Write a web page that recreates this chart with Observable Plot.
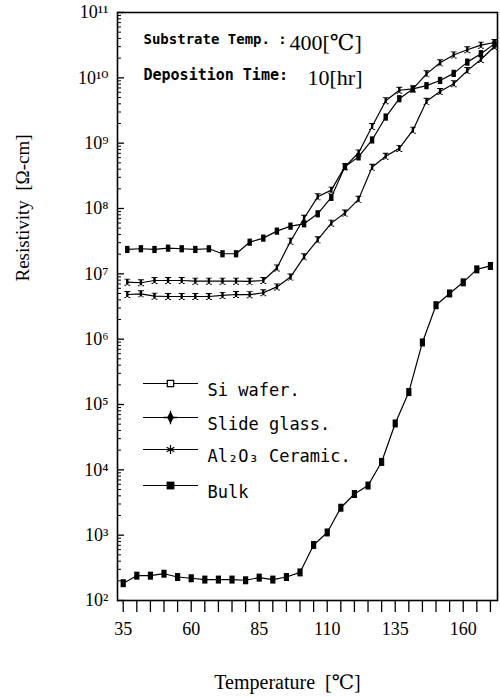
<!DOCTYPE html>
<html>
<head>
<meta charset="utf-8">
<script src="https://cdn.jsdelivr.net/npm/d3@7"></script>
<script src="https://cdn.jsdelivr.net/npm/@observablehq/plot@0.6"></script>
<style>
  html, body { margin: 0; padding: 0; background: #fff; }
  #chart { width: 500px; height: 698px; }
</style>
</head>
<body>
<div id="chart"></div>
<script>
// ---------- data ----------
const bulkTemps = [35, 40, 45, 50, 55, 60, 65, 70, 75, 80, 85, 90, 95, 100, 105, 110, 115, 120, 125, 130, 135, 140, 145, 150, 155, 160, 165, 170];
const filmTemps = [36.5, 41.5, 46.5, 51.5, 56.5, 61.5, 66.5, 71.5, 76.5, 81.5, 86.5, 91.5, 96.5, 101.5, 106.5, 111.5, 116.5, 121.5, 126.5, 131.5, 136.5, 141.5, 146.5, 151.5, 156.5, 161.5, 166.5, 171.5];

const siWafer = [2.36e7, 2.42e7, 2.36e7, 2.47e7, 2.42e7, 2.36e7, 2.42e7, 2.03e7, 2.03e7, 3.05e7, 3.52e7, 4.5e7, 5.37e7, 5.83e7, 8.3e7, 1.48e8, 4.37e8, 6.17e8, 1.12e9, 2.51e9, 4.79e9, 6.76e9, 7.59e9, 9.12e9, 1.17e10, 1.74e10, 2.34e10, 3.31e10];
const slideGlass = [7.45e6, 7.3e6, 7.9e6, 7.9e6, 7.9e6, 7.73e6, 7.73e6, 7.73e6, 7.73e6, 7.67e6, 7.9e6, 1.23e7, 3.16e7, 7.08e7, 1.51e8, 1.91e8, 4.37e8, 7.08e8, 1.8e9, 4.47e9, 6.46e9, 6.76e9, 1.15e10, 1.7e10, 2.24e10, 2.69e10, 3.16e10, 3.47e10];
const al2o3 = [4.83e6, 4.95e6, 4.55e6, 4.5e6, 4.5e6, 4.5e6, 4.5e6, 4.67e6, 4.83e6, 4.79e6, 5.13e6, 6.31e6, 8.91e6, 1.82e7, 3.31e7, 5.97e7, 8.51e7, 1.38e8, 4.27e8, 6.31e8, 8.32e8, 1.58e9, 4.37e9, 6.17e9, 8.13e9, 1.29e10, 1.91e10, 3.02e10];
const bulk = [1.84e2, 2.4e2, 2.4e2, 2.57e2, 2.29e2, 2.19e2, 2.09e2, 2.09e2, 2.09e2, 2.04e2, 2.24e2, 2.09e2, 2.29e2, 2.69e2, 7.08e2, 1.1e3, 2.63e3, 4.27e3, 5.75e3, 1.32e4, 5.13e4, 1.55e5, 8.91e5, 3.31e6, 5.01e6, 7.41e6, 1.17e7, 1.32e7];

const seriesNames = ["Si wafer.", "Slide glass.", "Al\u2082O\u2083 Ceramic.", "Bulk"];

const xTickLabels = [35, 60, 85, 110, 135, 160];
const xTicks = [35, 40, 45, 50, 55, 60, 65, 70, 75, 80, 85, 90, 95, 100, 105, 110, 115, 120, 125, 130, 135, 140, 145, 150, 155, 160, 165, 170];
const yTicks = [1e2, 1e3, 1e4, 1e5, 1e6, 1e7, 1e8, 1e9, 1e10, 1e11];
const yTickLabels = ["10\u00B2", "10\u00B3", "10\u2074", "10\u2075", "10\u2076", "10\u2077", "10\u2078", "10\u2079", "10\u00B9\u2070", "10\u00B9\u00B9"];

const annotation1 = ["Substrate Temp. :", "400[\u2103]"];
const annotation2 = ["Deposition Time:", "10[hr]"];
const xTitle = "Temperature  [\u2103]";
const yTitle = "Resistivity  [\u03A9-cm]";

// ---------- build table ----------
const seriesData = [
  {name: seriesNames[0], temps: filmTemps, values: siWafer},
  {name: seriesNames[1], temps: filmTemps, values: slideGlass},
  {name: seriesNames[2], temps: filmTemps, values: al2o3},
  {name: seriesNames[3], temps: bulkTemps, values: bulk}
];
const rows = seriesData.flatMap(s => s.values.map((v, i) => ({series: s.name, t: s.temps[i], r: v})));

const yMinor = [];
for (let i = 0; i < yTicks.length - 1; i++) for (let m = 2; m <= 9; m++) yMinor.push(yTicks[i] * m);

const SERIF = "'Liberation Serif', 'DejaVu Serif', serif";
const MONO = "'DejaVu Sans Mono', 'Liberation Mono', monospace";

// ---------- symbols ----------
const ibar = {draw(ctx) { ctx.moveTo(-2.2, -3.6); ctx.lineTo(2.2, -3.6); ctx.lineTo(2.2, 3.6); ctx.lineTo(-2.2, 3.6); ctx.closePath(); }};
const ibarBig = {draw(ctx) { ctx.moveTo(-2.6, -4); ctx.lineTo(2.6, -4); ctx.lineTo(2.6, 4); ctx.lineTo(-2.6, 4); ctx.closePath(); }};
const thin = {draw(ctx) { ctx.moveTo(-1.2, -3.5); ctx.lineTo(1.2, -3.5); ctx.lineTo(1.2, 3.5); ctx.lineTo(-1.2, 3.5); ctx.closePath(); ctx.moveTo(-3, -3.5); ctx.lineTo(3, -3.5); ctx.lineTo(3, -2.6); ctx.lineTo(-3, -2.6); ctx.closePath(); ctx.moveTo(-3, 3.5); ctx.lineTo(3, 3.5); ctx.lineTo(3, 2.6); ctx.lineTo(-3, 2.6); ctx.closePath(); }};
const hline = {draw(ctx) { ctx.moveTo(-27.5, 0); ctx.lineTo(27.5, 0); }};
const dataSymbols = [ibar, thin, thin, ibarBig];

const legendRowsDy = [371, 405, 437, 473];

const legendMarks = seriesNames.flatMap((name, i) => {
  const dy = legendRowsDy[i];
  const base = {frameAnchor: "top-left", dx: 53, dy};
  const marks = [Plot.dot([name], {...base, symbol: hline, stroke: "black", strokeWidth: 1.2, fill: "none"})];
  if (i === 0) marks.push(Plot.dot([name], {...base, symbol: "square", r: 3.6, stroke: "black", strokeWidth: 1.2, fill: "white"}));
  if (i === 1) { marks.push(Plot.dot([name], {...base, symbol: "diamond", r: 3.6, fill: "black"})); marks.push(Plot.dot([name], {...base, symbol: "plus", r: 4.5, stroke: "black", strokeWidth: 1.3})); }
  if (i === 2) marks.push(Plot.dot([name], {...base, symbol: "asterisk", r: 4.2, stroke: "black", strokeWidth: 1.3}));
  if (i === 3) marks.push(Plot.dot([name], {...base, symbol: "square", r: 4.4, fill: "black"}));
  marks.push(Plot.text([name], {frameAnchor: "top-left", dx: 90, dy, text: d => d, textAnchor: "start", fontFamily: MONO, fontSize: 17, fill: "black"}));
  return marks;
});

const chart = Plot.plot({
  width: 500,
  height: 698,
  marginLeft: 117,
  marginRight: 3,
  marginTop: 12,
  marginBottom: 98,
  x: {domain: [32.9, 172.6]},
  y: {type: "log", domain: [1e2, 1e11]},
  style: {background: "white", color: "black", fontFamily: SERIF},
  marks: [
    // x ticks (outward) and labels
    Plot.axisX({ticks: xTicks, tickSize: 12, strokeWidth: 1.3, tickFormat: () => "", label: null}),
    Plot.axisX({ticks: xTickLabels, tickSize: 0, tickPadding: 22, fontSize: 18, fontFamily: SERIF, label: null}),
    // y ticks (inward) and labels
    Plot.axisY({ticks: yTicks, tickSize: 7, dx: 7, strokeWidth: 1.3, tickFormat: () => "", label: null}),
    Plot.axisY({ticks: yMinor, tickSize: 4, dx: 4, strokeWidth: 1, tickFormat: () => "", label: null}),
    Plot.axisY({ticks: yTicks, tickSize: 0, tickPadding: 9, fontSize: 18, fontFamily: SERIF, tickFormat: (d, i) => yTickLabels[yTicks.indexOf(d)], label: null}),
    Plot.frame({stroke: "black", strokeWidth: 1.6}),
    // data
    Plot.line(rows, {x: "t", y: "r", z: "series", stroke: "black", strokeWidth: 1.2}),
    ...seriesData.map((s, i) => Plot.dot(rows.filter(d => d.series === s.name), {x: "t", y: "r", symbol: dataSymbols[i], fill: "black", stroke: "none"})),
    // annotations
    Plot.text([annotation1[0]], {frameAnchor: "top-left", dx: 26, dy: 22, text: d => d, textAnchor: "start", fontFamily: MONO, fontSize: 14, fontWeight: "bold"}),
    Plot.text([annotation1[1]], {frameAnchor: "top-left", dx: 172, dy: 22, text: d => d, textAnchor: "start", fontFamily: SERIF, fontSize: 22}),
    Plot.text([annotation2[0]], {frameAnchor: "top-left", dx: 26, dy: 57, text: d => d, textAnchor: "start", fontFamily: MONO, fontSize: 15, fontWeight: "bold"}),
    Plot.text([annotation2[1]], {frameAnchor: "top-left", dx: 190, dy: 57, text: d => d, textAnchor: "start", fontFamily: SERIF, fontSize: 22}),
    // legend
    ...legendMarks,
    // axis titles
    Plot.text([xTitle], {frameAnchor: "bottom", dx: -20, dy: 88, text: d => d, fontFamily: SERIF, fontSize: 20}),
    Plot.text([yTitle], {frameAnchor: "left", dx: -95, dy: -25, rotate: -90, text: d => d, fontFamily: SERIF, fontSize: 19})
  ]
});
document.getElementById("chart").appendChild(chart);
</script>
</body>
</html>
